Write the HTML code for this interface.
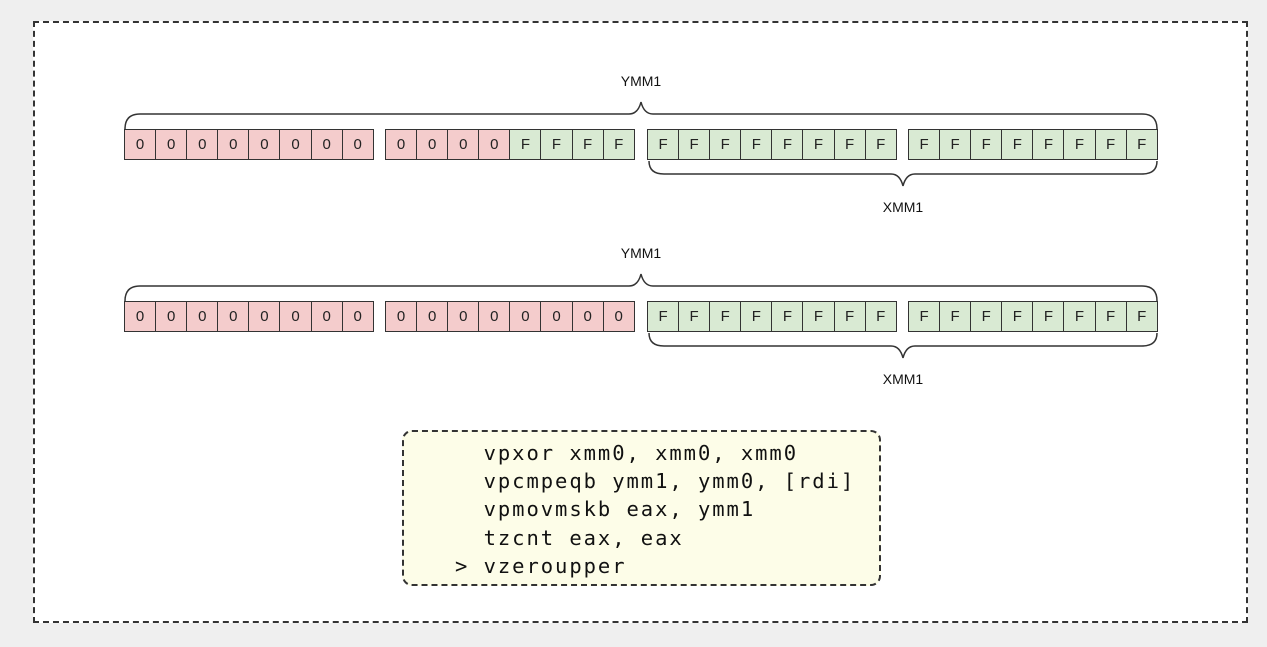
<!DOCTYPE html>
<html><head><meta charset="utf-8"><style>
body{margin:0;width:1267px;height:647px;background:#efefef;position:relative;overflow:hidden;font-family:"Liberation Sans",sans-serif}
.outer{position:absolute;left:33px;top:21px;width:1211px;height:598px;border:2.5px dashed #333;background:#fff}
.g{position:absolute;display:flex;height:29px;border:1px solid #333;box-sizing:content-box}
.g div{width:30.1px;height:29px;border-right:1px solid #333;text-align:center;line-height:29px;font-size:15px;color:#222}
.g div:last-child{border-right:none}
.r{background:#f4cccc}.f{background:#d9ead3}
.lbl{position:absolute;font-size:14px;color:#111;transform:translateX(-50%)}
.code{position:absolute;left:402px;top:430px;width:479px;height:156px;border:2.5px dashed #333;border-radius:10px;background:#fdfde8;font-family:"DejaVu Sans Mono","Liberation Mono",monospace;font-size:20.5px;letter-spacing:1.95px;line-height:28.2px;color:#111;white-space:pre;padding-top:7px;box-sizing:border-box;padding-left:51px}
</style></head><body>
<div class="outer"></div>
<svg style="position:absolute;left:0;top:0" width="1267" height="647">
<g fill="none" stroke="#333" stroke-width="1.5">
<path d="M125,129 Q125,114 140,114 L629,114 Q638,114 641,102 Q644,114 653,114 L1142,114 Q1157,114 1157,129"/>
<path d="M649,161 Q649,174 664,174 L891,174 Q900,174 903,186 Q906,174 915,174 L1142,174 Q1157,174 1157,161"/>
<path d="M125,301 Q125,286 140,286 L629,286 Q638,286 641,274 Q644,286 653,286 L1142,286 Q1157,286 1157,301"/>
<path d="M649,333 Q649,346 664,346 L891,346 Q900,346 903,358 Q906,346 915,346 L1142,346 Q1157,346 1157,333"/>
</g></svg>
<div class="lbl" style="left:641px;top:73px">YMM1</div>
<div class="lbl" style="left:903px;top:199px">XMM1</div>
<div class="lbl" style="left:641px;top:245px">YMM1</div>
<div class="lbl" style="left:903px;top:371px">XMM1</div>

<div class="g" style="left:124px;top:129px"><div class="r">0</div><div class="r">0</div><div class="r">0</div><div class="r">0</div><div class="r">0</div><div class="r">0</div><div class="r">0</div><div class="r">0</div></div>
<div class="g" style="left:385px;top:129px"><div class="r">0</div><div class="r">0</div><div class="r">0</div><div class="r">0</div><div class="f">F</div><div class="f">F</div><div class="f">F</div><div class="f">F</div></div>
<div class="g" style="left:647px;top:129px"><div class="f">F</div><div class="f">F</div><div class="f">F</div><div class="f">F</div><div class="f">F</div><div class="f">F</div><div class="f">F</div><div class="f">F</div></div>
<div class="g" style="left:908px;top:129px"><div class="f">F</div><div class="f">F</div><div class="f">F</div><div class="f">F</div><div class="f">F</div><div class="f">F</div><div class="f">F</div><div class="f">F</div></div>

<div class="g" style="left:124px;top:301px"><div class="r">0</div><div class="r">0</div><div class="r">0</div><div class="r">0</div><div class="r">0</div><div class="r">0</div><div class="r">0</div><div class="r">0</div></div>
<div class="g" style="left:385px;top:301px"><div class="r">0</div><div class="r">0</div><div class="r">0</div><div class="r">0</div><div class="r">0</div><div class="r">0</div><div class="r">0</div><div class="r">0</div></div>
<div class="g" style="left:647px;top:301px"><div class="f">F</div><div class="f">F</div><div class="f">F</div><div class="f">F</div><div class="f">F</div><div class="f">F</div><div class="f">F</div><div class="f">F</div></div>
<div class="g" style="left:908px;top:301px"><div class="f">F</div><div class="f">F</div><div class="f">F</div><div class="f">F</div><div class="f">F</div><div class="f">F</div><div class="f">F</div><div class="f">F</div></div>

<div class="code">  vpxor xmm0, xmm0, xmm0
  vpcmpeqb ymm1, ymm0, [rdi]
  vpmovmskb eax, ymm1
  tzcnt eax, eax
> vzeroupper</div>
</body></html>
